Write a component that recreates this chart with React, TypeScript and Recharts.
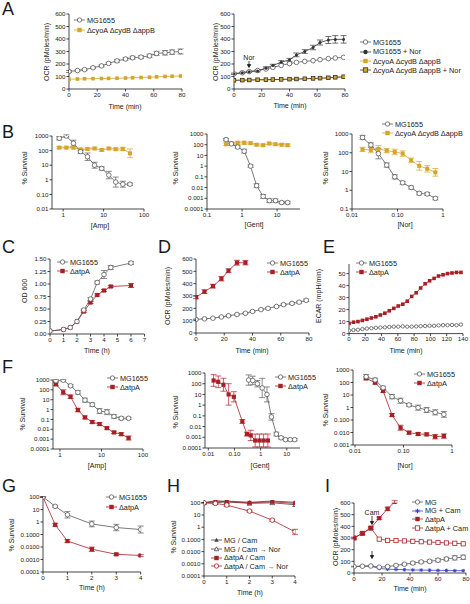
import React from "react";
import { LineChart, Line, XAxis, YAxis, ErrorBar } from "recharts";

const FONT = '"Liberation Sans", Arial, sans-serif';
const INK = "#1a1a1a";
const GRAY = "#5a5a5a";
const GOLD = "#d6a42a";
const RED = "#a82026";
const BLUE = "#3b3fd1";

// ----- data -----

// A: OCR over time
const A_T = [0, 6, 11, 17, 23, 28, 34, 40, 45, 51, 57, 62, 68, 73, 79];
const A1_MG = [140, 148, 155, 170, 185, 205, 225, 240, 250, 255, 265, 285, 290, 295, 300];
const A1_MG_ERR = [8, 6, 6, 6, 8, 8, 10, 10, 12, 12, 14, 16, 18, 18, 20];
const A1_CYO = [78, 80, 82, 83, 84, 85, 86, 88, 90, 92, 94, 97, 100, 102, 104];
const A2_MG = [122, 130, 139, 148, 160, 173, 189, 203, 213, 221, 227, 235, 243, 248, 253];
const A2_MGNOR = [122, 130, 139, 145, 167, 188, 215, 233, 273, 300, 332, 372, 392, 397, 397];
const A2_MGNOR_ERR = [5, 5, 5, 8, 10, 10, 12, 12, 15, 15, 18, 20, 28, 30, 30];
const A2_CYO = [68, 70, 71, 72, 73, 74, 76, 77, 79, 81, 83, 85, 88, 92, 96];
const A2_CYONOR = [70, 71, 72, 74, 75, 76, 77, 79, 80, 82, 85, 87, 90, 94, 98];

// B: survival vs dose
const X_AMP = [0.8, 1.2, 1.8, 2.7, 4, 6, 9, 13.5, 20, 30, 45];
const B1_MG = [700, 1000, 320, 85, 38, 10, 6, 2.1, 0.7, 0.5, 0.5];
const B1_MG_F = [1.3, 1.2, 1.6, 1.3, 1.8, 1.6, 1.3, 1.8, 2.2, 1.6, 1.2];
const B1_CYO = [160, 160, 160, 120, 130, 140, 110, 140, 125, 130, 65];
const B1_CYO_F = [1.2, 1.2, 1.2, 1.2, 1.2, 1.2, 1.2, 1.2, 1.2, 1.3, 2];

const X_GENT = [0.35, 0.5, 0.75, 1.15, 1.75, 2.6, 4, 6, 9, 13.5, 20];
const B2_MG = [300, 120, 60, 25, 1, 0.015, 0.0015, 0.0006, 0.0006, 0.0004, 0.0004];
const B2_MG_F = [1.3, 1.3, 1.3, 1.5, 1.3, 1.5, 1.5, 1.5, 1.5, 1.3, 1.3];
const B2_CYO = [110, 140, 150, 150, 140, 100, 90, 130, 110, 100, 90];
const B2_CYO_F = [1.3, 1.3, 1.4, 1.4, 1.3, 1.3, 1.3, 1.3, 1.3, 1.3, 1.3];

const X_NOR = [0.017, 0.026, 0.038, 0.058, 0.087, 0.13, 0.2, 0.3, 0.45, 0.68];
const B3_MG = [650, 260, 90, 22, 5.2, 2.5, 1.4, 0.68, 0.63, 0.37];
const B3_MG_F = [1.3, 1.3, 1.9, 1.3, 1.3, 1.2, 1.2, 1.2, 1.2, 1.2];
const B3_CYO = [150, 140, 160, 130, 110, 90, 40, 20, 14, 9];
const B3_CYO_F = [1.3, 1.4, 1.5, 1.3, 1.4, 1.4, 1.3, 1.7, 1.5, 1.6];

// C: growth
const C_T = [0, 1, 1.5, 2, 2.5, 3, 3.5, 4, 4.5, 6];
const C_MG = [0.06, 0.09, 0.13, 0.25, 0.48, 0.7, 1.03, 1.19, 1.33, 1.42];
const C_MG_ERR = [0, 0, 0, 0, 0.02, 0.03, 0.03, 0.08, 0.04, 0.03];
const C_ATP = [0.06, 0.09, 0.13, 0.25, 0.45, 0.63, 0.78, 0.87, 0.95, 0.97];
const C_ATP_ERR = [0, 0, 0, 0, 0.02, 0.02, 0.02, 0.02, 0.02, 0.04];

// D: OCR atpA
const D_T = [0, 6, 12, 18, 23, 29, 35, 40, 46, 51, 57, 62, 68, 73, 78];
const D_MG = [110, 115, 120, 130, 140, 150, 160, 175, 190, 200, 215, 230, 240, 250, 265];
const D_MG_ERR = [3, 3, 3, 3, 4, 4, 4, 5, 5, 6, 6, 7, 8, 8, 10];
const D_ATP_T = [0, 6, 12, 18, 23, 29, 35];
const D_ATP = [290, 335, 380, 440, 505, 570, 570];
const D_ATP_ERR = [12, 15, 15, 18, 15, 20, 18];

// E: ECAR
const E_T = [0, 5.5, 11, 16.5, 22, 27.5, 33, 38.5, 44, 49.5, 55, 60.5, 66, 71.5, 77, 82.5, 88, 93.5, 99, 104.5, 110, 115.5, 121, 126.5, 132, 137.5];
const E_ATP = [8.5, 9.5, 10, 11, 12, 13, 14, 15.5, 17, 19, 21, 23, 24.5, 27, 31, 34, 38, 41.5, 44, 46, 48, 49, 50, 50.5, 51, 51];
const E_MG = [2.5, 3, 3.2, 3.8, 4.2, 4.5, 4.8, 5, 5.2, 5.5, 5.8, 5.8, 6, 5.8, 5.8, 6, 6.2, 6.3, 6.5, 6.5, 6.8, 7, 7, 7.2, 7, 7.5];

// F: survival atpA
const F1_MG = [850, 950, 260, 55, 9, 3.2, 0.7, 0.55, 0.2, 0.13, 0.13];
const F1_MG_F = [1.3, 1.2, 1.3, 1.5, 1.6, 1.5, 1.8, 1.8, 1.5, 1.4, 1.3];
const F1_ATP = [370, 57, 20, 0.9, 0.16, 0.054, 0.034, 0.013, 0.0048, 0.0032, 0.0013];
const F1_ATP_F = [1.4, 1.8, 1.5, 1.5, 1.4, 1.4, 1.4, 1.3, 1.3, 1.4, 1.6];

const F2_MG = [220, 200, 100, 40, 10, 0.08, 0.002, 0.0009, 0.0006, 0.0006, 0.0006];
const F2_MG_F = [3, 2.5, 2, 8, 5, 2, 1.5, 1.3, 1.3, 1.3, 1.3];
const F2_ATP_X = [0.016, 0.024, 0.038, 0.06, 0.095, 0.2, 0.3, 0.42, 0.62, 0.9, 1.3, 1.9];
const F2_ATP = [200, 150, 80, 10, 6, 0.03, 0.002, 0.0015, 0.0005, 0.0005, 0.0005, 0.0005];
const F2_ATP_F = [3.5, 3.5, 4, 10, 3, 1.5, 1.5, 3, 4, 4, 4, 4];

const F3_MG = [290, 160, 38, 7.4, 3.5, 1.6, 0.97, 0.63, 0.41, 0.28];
const F3_MG_F = [1.5, 1.4, 1.3, 1.5, 1.6, 1.3, 1.6, 1.6, 1.6, 1.7];
const F3_ATP = [215, 97, 21, 0.25, 0.024, 0.0097, 0.0076, 0.0071, 0.0046, 0.0052];
const F3_ATP_F = [1.3, 1.3, 1.3, 1.3, 1.6, 1.3, 1.3, 1.3, 1.5, 1.5];

// G: survival over time
const G_T = [0, 0.5, 1, 2, 3, 4];
const G_MG = [100, 18, 3.8, 0.7, 0.36, 0.25];
const G_MG_F = [1, 1.2, 1.8, 1.7, 1.8, 1.9];
const G_ATP = [100, 0.6, 0.03, 0.0066, 0.0026, 0.0021];
const G_ATP_F = [1, 1.3, 1.3, 1.5, 1.2, 1.2];

// H: Cam pretreatment
const H_T = [0, 0.5, 1, 2, 3, 4];
const H_MG_CAM = [100, 130, 140, 110, 140, 110];
const H_MG_NOR = [100, 100, 120, 90, 100, 70];
const H_ATP_CAM = [100, 150, 120, 100, 120, 90];
const H_ATP_NOR = [100, 90, 65, 21, 3.8, 0.42];
const H_ATP_NOR_F = [1, 1.2, 1.3, 1.2, 1.2, 1.6];

// I: OCR with Cam
const I_T = [0, 6, 12, 18, 24, 30, 36, 42, 48, 54, 60, 66, 72, 78];
const I_MG = [55, 58, 60, 50, 55, 65, 75, 85, 95, 100, 110, 120, 130, 135];
const I_MG_ERR = [3, 3, 3, 3, 5, 5, 8, 10, 10, 12, 15, 15, 18, 18];
const I_MG_CAM = [55, 58, 60, 38, 33, 30, 28, 26, 25, 24, 22, 22, 20, 20];
const I_ATP_T = [0, 6, 12, 18, 24, 29];
const I_ATP = [300, 340, 385, 470, 550, 610];
const I_ATP_ERR = [8, 8, 10, 10, 15, 10];
const I_ATP_CAM = [300, 340, 385, 290, 280, 278, 275, 272, 268, 265, 262, 258, 255, 250];

// ----- helpers -----

type Pt = { x: number; y: number; e?: any };

function pts(xs: number[], ys: number[], err?: number[]): Pt[] {
  return xs.map((x, i) => ({ x, y: ys[i], e: err ? err[i] : 0 }));
}
// multiplicative error factors for log axes
function ptsLog(xs: number[], ys: number[], f: number[]): Pt[] {
  return xs.map((x, i) => ({ x, y: ys[i], e: [ys[i] - ys[i] / f[i], ys[i] * f[i] - ys[i]] }));
}

function marker(kind: string, color: string, s = 2.3) {
  return (p: any) => {
    const { cx, cy, index } = p;
    if (cx == null || cy == null || isNaN(cx) || isNaN(cy)) return <g key={index} />;
    switch (kind) {
      case "oc":
        return <circle key={index} cx={cx} cy={cy} r={s} fill="#fff" stroke={color} strokeWidth={0.8} />;
      case "sq":
        return <rect key={index} x={cx - s} y={cy - s} width={2 * s} height={2 * s} fill={color} />;
      case "osq":
        return <rect key={index} x={cx - s} y={cy - s} width={2 * s} height={2 * s} fill="#fff" stroke={color} strokeWidth={0.8} />;
      case "bsq":
        return <rect key={index} x={cx - s} y={cy - s} width={2 * s} height={2 * s} fill={GOLD} stroke="#333" strokeWidth={0.8} />;
      case "dot":
        return <circle key={index} cx={cx} cy={cy} r={s} fill={color} />;
      case "tri":
        return <polygon key={index} points={`${cx},${cy - s} ${cx + s},${cy + s * 0.8} ${cx - s},${cy + s * 0.8}`} fill={color} />;
      case "otri":
        return <polygon key={index} points={`${cx},${cy - s} ${cx + s},${cy + s * 0.8} ${cx - s},${cy + s * 0.8}`} fill="#fff" stroke={color} strokeWidth={0.8} />;
      case "star":
        return (
          <path key={index} d={`M${cx - s},${cy}L${cx + s},${cy}M${cx},${cy - s}L${cx},${cy + s}M${cx - s * 0.7},${cy - s * 0.7}L${cx + s * 0.7},${cy + s * 0.7}M${cx - s * 0.7},${cy + s * 0.7}L${cx + s * 0.7},${cy - s * 0.7}`} stroke={color} strokeWidth={1} />
        );
      default:
        return <g key={index} />;
    }
  };
}

function series(key: string, data: Pt[], kind: string, color: string, lineColor: string, err = false, size = 2.3) {
  return (
    <Line
      key={key}
      data={data}
      dataKey="y"
      type="linear"
      stroke={lineColor}
      strokeWidth={0.8}
      dot={marker(kind, color, size)}
      activeDot={false}
      isAnimationActive={false}
      legendType="none"
    >
      {err ? <ErrorBar dataKey="e" width={3} stroke={lineColor} strokeWidth={0.7} direction="y" /> : null}
    </Line>
  );
}

const tickStyle = { fontSize: 6.2, fill: INK };
const axLine = { stroke: INK, strokeWidth: 0.8 };

function lab(ticks: number[], labels: string[]) {
  return (v: number) => {
    const i = ticks.indexOf(v);
    return i >= 0 ? labels[i] : String(v);
  };
}

function xA(domain: number[], ticks: number[], labels?: string[], log = false) {
  return (
    <XAxis
      type="number"
      dataKey="x"
      domain={domain}
      ticks={ticks}
      scale={log ? "log" : "linear"}
      allowDataOverflow
      interval={0}
      height={12}
      tick={tickStyle}
      tickSize={2.5}
      tickMargin={1}
      axisLine={axLine}
      tickLine={axLine}
      tickFormatter={labels ? lab(ticks, labels) : undefined}
    />
  );
}

function yA(domain: number[], ticks: number[], labels?: string[], log = false) {
  return (
    <YAxis
      type="number"
      domain={domain}
      ticks={ticks}
      scale={log ? "log" : "linear"}
      allowDataOverflow
      interval={0}
      width={28}
      tick={tickStyle}
      tickSize={2.5}
      tickMargin={1}
      axisLine={axLine}
      tickLine={axLine}
      tickFormatter={labels ? lab(ticks, labels) : undefined}
    />
  );
}

type Box = { l: number; t: number; r: number; b: number };

const MT = 6;
const MR = 9;

function Plot({ box, children }: { box: Box; children: React.ReactNode }) {
  const w = box.r - box.l + 28 + MR;
  const h = box.b - box.t + 12 + MT + 2;
  return (
    <div style={{ position: "absolute", left: box.l - 28, top: box.t - MT }}>
      <LineChart width={w} height={h} margin={{ top: MT, right: MR, bottom: 2, left: 0 }}>
        {children}
      </LineChart>
    </div>
  );
}

function Letter({ x, y, c }: { x: number; y: number; c: string }) {
  return (
    <div style={{ position: "absolute", left: x, top: y - 2.2, fontSize: 18, lineHeight: "18px" }}>{c}</div>
  );
}

function XT({ x, y, t }: { x: number; y: number; t: string }) {
  return (
    <div style={{ position: "absolute", left: x, top: y, transform: "translate(-50%,-50%)", fontSize: 7, whiteSpace: "nowrap" }}>{t}</div>
  );
}

function YT({ x, y, t }: { x: number; y: number; t: string }) {
  return (
    <div style={{ position: "absolute", left: x, top: y, transform: "translate(-50%,-50%) rotate(-90deg)", fontSize: 7, whiteSpace: "nowrap" }}>{t}</div>
  );
}

type KeyItem = { label: string; kind: string; color: string; line: string };

function Key({ x, ys, items }: { x: number; ys: number[]; items: KeyItem[] }) {
  return (
    <>
      {items.map((it, i) => (
        <div key={i} style={{ position: "absolute", left: x, top: ys[i] - 5, height: 10, display: "flex", alignItems: "center", fontSize: 7.3, whiteSpace: "nowrap" }}>
          <svg width={11} height={10} style={{ marginRight: 2 }}>
            <line x1={0} y1={5} x2={11} y2={5} stroke={it.line} strokeWidth={0.8} />
            {marker(it.kind, it.color, 2.2)({ cx: 5.5, cy: 5, index: 0 })}
          </svg>
          <span>{it.label}</span>
        </div>
      ))}
    </>
  );
}

const LOG_Y7 = [0.0001, 0.001, 0.01, 0.1, 1, 10, 100, 1000];
const LOG_Y7_L = ["0.0001", "0.001", "0.01", "0.1", "1", "10", "100", "1000"];

const KEY_MG = { label: "MG1655", kind: "oc", color: GRAY, line: GRAY };
const KEY_CYO = { label: "ΔcyoA ΔcydB ΔappB", kind: "sq", color: GOLD, line: GOLD };
const KEY_ATP = { label: "ΔatpA", kind: "sq", color: RED, line: RED };

export default function App() {
  return (
    <div style={{ position: "absolute", left: 0, top: 0, width: 470, height: 604, background: "#fff", fontFamily: FONT, color: INK, overflow: "hidden" }}>
      {/* A */}
      <Letter x={2} y={2} c="A" />
      <Plot box={{ l: 69, t: 14, r: 182, b: 89 }}>
        {xA([0, 80], [0, 20, 40, 60, 80])}
        {yA([0, 600], [0, 100, 200, 300, 400, 500, 600])}
        {series("cyo", pts(A_T, A1_CYO), "sq", GOLD, GOLD, false, 1.8)}
        {series("mg", pts(A_T, A1_MG, A1_MG_ERR), "oc", GRAY, GRAY, true)}
      </Plot>
      <YT x={46} y={52} t="OCR (pMoles/min)" />
      <XT x={125} y={106} t="Time (min)" />
      <Key x={74} ys={[20, 30]} items={[KEY_MG, KEY_CYO]} />

      <Plot box={{ l: 234, t: 14, r: 345, b: 89 }}>
        {xA([0, 80], [0, 20, 40, 60, 80])}
        {yA([0, 600], [0, 100, 200, 300, 400, 500, 600])}
        {series("cyo", pts(A_T, A2_CYO), "sq", GOLD, GOLD, false, 1.8)}
        {series("cyonor", pts(A_T, A2_CYONOR), "bsq", GOLD, "#333", false, 1.8)}
        {series("mg", pts(A_T, A2_MG), "oc", GRAY, GRAY)}
        {series("mgnor", pts(A_T, A2_MGNOR, A2_MGNOR_ERR), "dot", "#333", "#333", true, 1.5)}
      </Plot>
      <YT x={215} y={52} t="OCR (pMoles/min)" />
      <XT x={290} y={105} t="Time (min)" />
      <Key
        x={360}
        ys={[42, 51.5, 61, 70]}
        items={[
          KEY_MG,
          { label: "MG1655 + Nor", kind: "dot", color: "#333", line: "#333" },
          KEY_CYO,
          { label: "ΔcyoA ΔcydB ΔappB + Nor", kind: "bsq", color: GOLD, line: "#333" },
        ]}
      />

      {/* B */}
      <Letter x={2} y={125} c="B" />
      <Plot box={{ l: 52, t: 136, r: 144, b: 209 }}>
        {xA([0.53, 100], [1, 10, 100], ["1", "10", "100"], true)}
        {yA([0.01, 1000], [0.01, 0.1, 1, 10, 100, 1000], ["0.01", "0.10", "1", "10", "100", "1000"], true)}
        {series("cyo", ptsLog(X_AMP, B1_CYO, B1_CYO_F), "sq", GOLD, GOLD, true, 2)}
        {series("mg", ptsLog(X_AMP, B1_MG, B1_MG_F), "oc", GRAY, GRAY, true)}
      </Plot>
      <YT x={24} y={168} t="% Survival" />
      <XT x={100} y={225} t="[Amp]" />

      <Plot box={{ l: 207, t: 134, r: 300, b: 209 }}>
        {xA([0.1, 45], [0.1, 1, 10], ["0.1", "1", "10"], true)}
        {yA([0.0001, 1000], LOG_Y7, LOG_Y7_L, true)}
        {series("cyo", ptsLog(X_GENT, B2_CYO, B2_CYO_F), "sq", GOLD, GOLD, true, 2)}
        {series("mg", ptsLog(X_GENT, B2_MG, B2_MG_F), "oc", GRAY, GRAY, true)}
      </Plot>
      <YT x={175} y={168} t="% Survival" />
      <XT x={254} y={224} t="[Gent]" />

      <Plot box={{ l: 352, t: 134, r: 443, b: 209 }}>
        {xA([0.01, 1], [0.01, 0.1, 1], ["0.01", "0.10", "1"], true)}
        {yA([0.1, 1000], [0.1, 1, 10, 100, 1000], ["0.1", "1", "10", "100", "1000"], true)}
        {series("cyo", ptsLog(X_NOR, B3_CYO, B3_CYO_F), "sq", GOLD, GOLD, true, 2)}
        {series("mg", ptsLog(X_NOR, B3_MG, B3_MG_F), "oc", GRAY, GRAY, true)}
      </Plot>
      <YT x={325} y={168} t="% Survival" />
      <XT x={405} y={224} t="[Nor]" />
      <Key x={382} ys={[124, 133]} items={[KEY_MG, KEY_CYO]} />

      {/* C */}
      <Letter x={2} y={240} c="C" />
      <Plot box={{ l: 50, t: 259, r: 144.5, b: 334 }}>
        {xA([0, 7], [0, 1, 2, 3, 4, 5, 6, 7])}
        {yA([0, 1.5], [0, 0.25, 0.5, 0.75, 1, 1.25, 1.5], ["0.00", "0.25", "0.50", "0.75", "1.00", "1.25", "1.50"])}
        {series("atp", pts(C_T, C_ATP, C_ATP_ERR), "sq", RED, RED, true, 2.1)}
        {series("mg", pts(C_T, C_MG, C_MG_ERR), "oc", GRAY, GRAY, true)}
      </Plot>
      <YT x={24} y={291} t="OD 600" />
      <XT x={97} y={350} t="Time (h)" />
      <Key x={57} ys={[262, 271]} items={[KEY_MG, KEY_ATP]} />

      {/* D */}
      <Letter x={158} y={240} c="D" />
      <Plot box={{ l: 196, t: 259, r: 309, b: 333 }}>
        {xA([0, 80], [0, 20, 40, 60, 80])}
        {yA([0, 600], [0, 100, 200, 300, 400, 500, 600])}
        {series("mg", pts(D_T, D_MG, D_MG_ERR), "oc", GRAY, GRAY, true)}
        {series("atp", pts(D_ATP_T, D_ATP, D_ATP_ERR), "sq", RED, RED, true, 2.1)}
      </Plot>
      <YT x={167} y={296} t="OCR (pMoles/min)" />
      <XT x={252} y={350} t="Time (min)" />
      <Key x={267} ys={[263, 272]} items={[KEY_MG, KEY_ATP]} />

      {/* E */}
      <Letter x={323} y={240} c="E" />
      <Plot box={{ l: 349, t: 263.7, r: 463, b: 333.3 }}>
        {xA([0, 140], [0, 20, 40, 60, 80, 100, 120, 140])}
        {yA([0, 58], [0, 10, 20, 30, 40, 50])}
        {series("mg", pts(E_T, E_MG), "oc", GRAY, GRAY, false, 1.7)}
        {series("atp", pts(E_T, E_ATP), "sq", RED, RED, false, 1.8)}
      </Plot>
      <YT x={318} y={296} t="ECAR (mpH/min)" />
      <XT x={406} y={350} t="Time (min)" />
      <Key x={356} ys={[263, 272]} items={[KEY_MG, KEY_ATP]} />

      {/* F */}
      <Letter x={2} y={360} c="F" />
      <Plot box={{ l: 53, t: 380, r: 143, b: 449 }}>
        {xA([0.68, 100], [1, 10, 100], ["1", "10", "100"], true)}
        {yA([0.0001, 1000], LOG_Y7, LOG_Y7_L, true)}
        {series("atp", ptsLog(X_AMP, F1_ATP, F1_ATP_F), "sq", RED, RED, true, 2.1)}
        {series("mg", ptsLog(X_AMP, F1_MG, F1_MG_F), "oc", GRAY, GRAY, true)}
      </Plot>
      <YT x={22} y={414} t="% Survival" />
      <XT x={97} y={465} t="[Amp]" />
      <Key x={107} ys={[378, 387]} items={[KEY_MG, KEY_ATP]} />

      <Plot box={{ l: 205, t: 373, r: 300, b: 448 }}>
        {xA([0.0075, 32], [0.01, 0.1, 1, 10], ["0.01", "0.10", "1", "10"], true)}
        {yA([0.0001, 1000], LOG_Y7, LOG_Y7_L, true)}
        {series("atp", ptsLog(F2_ATP_X, F2_ATP, F2_ATP_F), "sq", RED, RED, true, 2.1)}
        {series("mg", ptsLog(X_GENT, F2_MG, F2_MG_F), "oc", GRAY, GRAY, true)}
      </Plot>
      <YT x={175} y={412} t="% Survival" />
      <XT x={260} y={465} t="[Gent]" />
      <Key x={275} ys={[377, 386]} items={[KEY_MG, KEY_ATP]} />

      <Plot box={{ l: 353, t: 370, r: 452, b: 445 }}>
        {xA([0.0091, 1], [0.01, 0.1, 1], ["0.01", "0.10", "1"], true)}
        {yA([0.001, 1000], [0.001, 0.01, 0.1, 1, 10, 100, 1000], ["0.001", "0.010", "0.100", "1", "10", "100", "1000"], true)}
        {series("atp", ptsLog(X_NOR, F3_ATP, F3_ATP_F), "sq", RED, RED, true, 2.1)}
        {series("mg", ptsLog(X_NOR, F3_MG, F3_MG_F), "oc", GRAY, GRAY, true)}
      </Plot>
      <YT x={325} y={410} t="% Survival" />
      <XT x={405} y={465} t="[Nor]" />
      <Key x={414} ys={[374, 383]} items={[KEY_MG, KEY_ATP]} />

      {/* G */}
      <Letter x={2} y={479} c="G" />
      <Plot box={{ l: 43, t: 496.7, r: 140.7, b: 571.7 }}>
        {xA([0, 4], [0, 1, 2, 3, 4])}
        {yA([0.0001, 100], [0.0001, 0.001, 0.01, 0.1, 1, 10, 100], ["0.0001", "0.0010", "0.0100", "0.1000", "1", "10", "100"], true)}
        {series("atp", ptsLog(G_T, G_ATP, G_ATP_F), "sq", RED, RED, true, 2.1)}
        {series("mg", ptsLog(G_T, G_MG, G_MG_F), "oc", GRAY, GRAY, true)}
      </Plot>
      <YT x={11} y={535} t="% Survival" />
      <XT x={92} y={587} t="Time (h)" />
      <Key x={106} ys={[497, 507]} items={[KEY_MG, KEY_ATP]} />

      {/* H */}
      <Letter x={167} y={479} c="H" />
      <Plot box={{ l: 204, t: 500, r: 295, b: 576 }}>
        {xA([0, 4], [0, 1, 2, 3, 4])}
        {yA([0.0001, 170], [0.0001, 0.001, 0.01, 0.1, 1, 10, 100], ["0.0001", "0.0010", "0.0100", "0.1000", "1", "10", "100"], true)}
        {series("mgcam", pts(H_T, H_MG_CAM), "tri", "#444", "#444", false, 2.3)}
        {series("mgnor", pts(H_T, H_MG_NOR), "otri", "#444", "#444", false, 2.3)}
        {series("atpcam", pts(H_T, H_ATP_CAM), "sq", RED, RED, false, 2)}
        {series("atpnor", ptsLog(H_T, H_ATP_NOR, H_ATP_NOR_F), "oc", RED, RED, true)}
      </Plot>
      <YT x={173} y={537} t="% Survival" />
      <XT x={250} y={592} t="Time (h)" />
      <Key
        x={211}
        ys={[540, 549, 557.5, 566]}
        items={[
          { label: "MG / Cam", kind: "tri", color: "#444", line: "#444" },
          { label: "MG / Cam → Nor", kind: "otri", color: "#444", line: "#444" },
          { label: "ΔatpA / Cam", kind: "sq", color: RED, line: RED },
          { label: "ΔatpA / Cam → Nor", kind: "oc", color: RED, line: RED },
        ]}
      />

      {/* I */}
      <Letter x={325} y={479} c="I" />
      <Plot box={{ l: 354, t: 502.7, r: 466, b: 572.7 }}>
        {xA([0, 80], [0, 20, 40, 60, 80])}
        {yA([0, 600], [0, 100, 200, 300, 400, 500, 600])}
        {series("mgcam", pts(I_T, I_MG_CAM), "star", BLUE, BLUE, false, 1.8)}
        {series("mg", pts(I_T, I_MG, I_MG_ERR), "oc", GRAY, GRAY, true)}
        {series("atpcam", pts(I_T, I_ATP_CAM), "osq", RED, RED, false, 2.1)}
        {series("atp", pts(I_ATP_T, I_ATP, I_ATP_ERR), "sq", RED, RED, true, 2.1)}
      </Plot>
      <YT x={335} y={537} t="OCR (pMoles/min)" />
      <XT x={410} y={588} t="Time (min)" />
      <Key
        x={412}
        ys={[502, 510.5, 519, 528]}
        items={[
          { label: "MG", kind: "oc", color: GRAY, line: GRAY },
          { label: "MG + Cam", kind: "star", color: BLUE, line: BLUE },
          { label: "ΔatpA", kind: "sq", color: RED, line: RED },
          { label: "ΔatpA + Cam", kind: "osq", color: RED, line: RED },
        ]}
      />

      {/* annotations */}
      <div style={{ position: "absolute", left: 249, top: 57, transform: "translate(-50%,-50%)", fontSize: 7 }}>Nor</div>
      <div style={{ position: "absolute", left: 372, top: 512, transform: "translate(-50%,-50%)", fontSize: 7, background: "#fff", padding: "0 1px" }}>Cam</div>
      <svg width={470} height={604} style={{ position: "absolute", left: 0, top: 0, pointerEvents: "none" }}>
        <g stroke={INK} strokeWidth={0.8} fill={INK}>
          <line x1={249} y1={61} x2={249} y2={66} />
          <path d="M247.3,64.5L250.7,64.5L249,67.5Z" />
          <line x1={372} y1={516} x2={372} y2={523} />
          <path d="M370.3,521.5L373.7,521.5L372,524.5Z" />
          <line x1={372} y1={551} x2={372} y2={557} />
          <path d="M370.3,555.5L373.7,555.5L372,558.5Z" />
        </g>
      </svg>
    </div>
  );
}
